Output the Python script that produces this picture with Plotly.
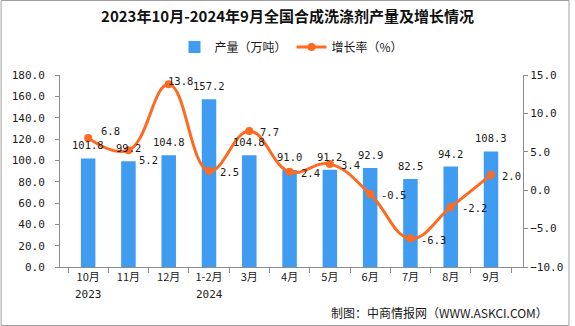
import plotly.graph_objects as go

categories = ["10月", "11月", "12月", "1-2月", "3月", "4月", "5月", "6月", "7月", "8月", "9月"]
year_labels = {"10月": "2023", "1-2月": "2024"}
production = [101.8, 99.2, 104.8, 157.2, 104.8, 91.0, 91.2, 92.9, 82.5, 94.2, 108.3]
growth = [6.8, 5.2, 13.8, 2.5, 7.7, 2.4, 3.4, -0.5, -6.3, -2.2, 2.0]

NUM_FONT = "DejaVu Sans Mono"
CJK_FONT = "Noto Sans CJK SC"
BAR_COLOR = "#3F9CF0"
LINE_COLOR = "#FF6A21"
AXIS_COLOR = "#8C8C8C"
TEXT_COLOR = "#1a1a1a"

W, H = 575, 326
ML, MR, MT, MB = 60, 47, 75, 59
PW, PH = W - ML - MR, H - MT - MB

fig = go.Figure()
fig.add_trace(go.Bar(
    x=categories, y=production, name="产量（万吨）",
    marker=dict(color=BAR_COLOR, line=dict(width=0)),
    yaxis="y",
))
fig.add_trace(go.Scatter(
    x=categories, y=growth, name="增长率（%）", yaxis="y2",
    mode="lines+markers",
    line=dict(color=LINE_COLOR, width=3, shape="spline", smoothing=1.2),
    marker=dict(color=LINE_COLOR, size=8),
    cliponaxis=False,
))

label_font = dict(family=NUM_FONT, size=10.5, color=TEXT_COLOR)
annotations = [dict(text="制图：中商情报网（WWW.ASKCI.COM）", xref="paper", yref="paper",
                    x=(555 - ML) / PW, xanchor="right", y=(267 - 312) / PH, yanchor="middle",
                    showarrow=False, font=dict(family=CJK_FONT, size=12, color=TEXT_COLOR))]
for cat, yr in year_labels.items():
    annotations.append(dict(text=yr, xref="x", x=cat, yref="paper", y=(267 - 294) / PH,
                            yanchor="middle", showarrow=False,
                            font=dict(family=NUM_FONT, size=11, color=TEXT_COLOR)))
# bar value labels
for cat, v in zip(categories, production):
    annotations.append(dict(text=f"{v:.1f}", xref="x", x=cat, yref="y", y=v, yshift=13,
                            xanchor="center", yanchor="middle", showarrow=False, font=label_font))
# growth labels (offsets)
shifts = {0: (11, 7), 1: (9, -10), 2: (-3, 3)}
for i, (cat, v) in enumerate(zip(categories, growth)):
    dx, dy = shifts.get(i, (9, -1))
    annotations.append(dict(text=f"{v:.1f}", xref="x", x=cat, yref="y2", y=v, xshift=dx, yshift=dy,
                            xanchor="left", yanchor="middle", showarrow=False, font=label_font))

fig.update_layout(
    width=W, height=H,
    margin=dict(l=ML, r=MR, t=MT, b=MB),
    paper_bgcolor="white", plot_bgcolor="white",
    bargap=0.64,
    title=dict(text="<b>2023年10月-2024年9月全国合成洗涤剂产量及增长情况</b>",
               x=0.5, xanchor="center", y=1 - 17 / H, yanchor="middle",
               font=dict(family=CJK_FONT, size=15, color="#111")),
    legend=dict(orientation="h", x=0.5, xanchor="center", y=1 + 28 / PH, yanchor="middle",
                font=dict(family=CJK_FONT, size=12, color=TEXT_COLOR), bgcolor="rgba(0,0,0,0)",
                itemwidth=30, tracegroupgap=0),
    xaxis=dict(type="category", showline=True, linecolor=AXIS_COLOR, linewidth=1,
               ticks="outside", tickson="boundaries", ticklen=5, tickcolor=AXIS_COLOR,
               showgrid=False, tickfont=dict(family=CJK_FONT, size=11, color=TEXT_COLOR)),
    yaxis=dict(range=[0, 180], dtick=20, tickformat=".1f", showline=True, linecolor=AXIS_COLOR,
               ticks="outside", ticklen=4, tickcolor=AXIS_COLOR, showgrid=False, zeroline=False,
               ticklabelstandoff=8,
               tickfont=dict(family=NUM_FONT, size=11, color=TEXT_COLOR)),
    yaxis2=dict(range=[-10, 15], dtick=5, tickformat=".1f", overlaying="y", side="right",
                showline=True, linecolor=AXIS_COLOR, ticks="outside", ticklen=4, tickcolor=AXIS_COLOR,
                showgrid=False, zeroline=False,
                tickfont=dict(family=NUM_FONT, size=11, color=TEXT_COLOR)),
    annotations=annotations,
    shapes=[dict(type="rect", xref="paper", yref="paper",
                 x0=(0.5 - ML) / PW, x1=(W - 0.5 - ML) / PW,
                 y0=(MT + PH - (H - 0.5)) / PH, y1=(MT + PH - 0.5) / PH,
                 line=dict(color="#A0A0A0", width=1), fillcolor="rgba(0,0,0,0)", layer="below")],
)

fig.write_html("out.html")
